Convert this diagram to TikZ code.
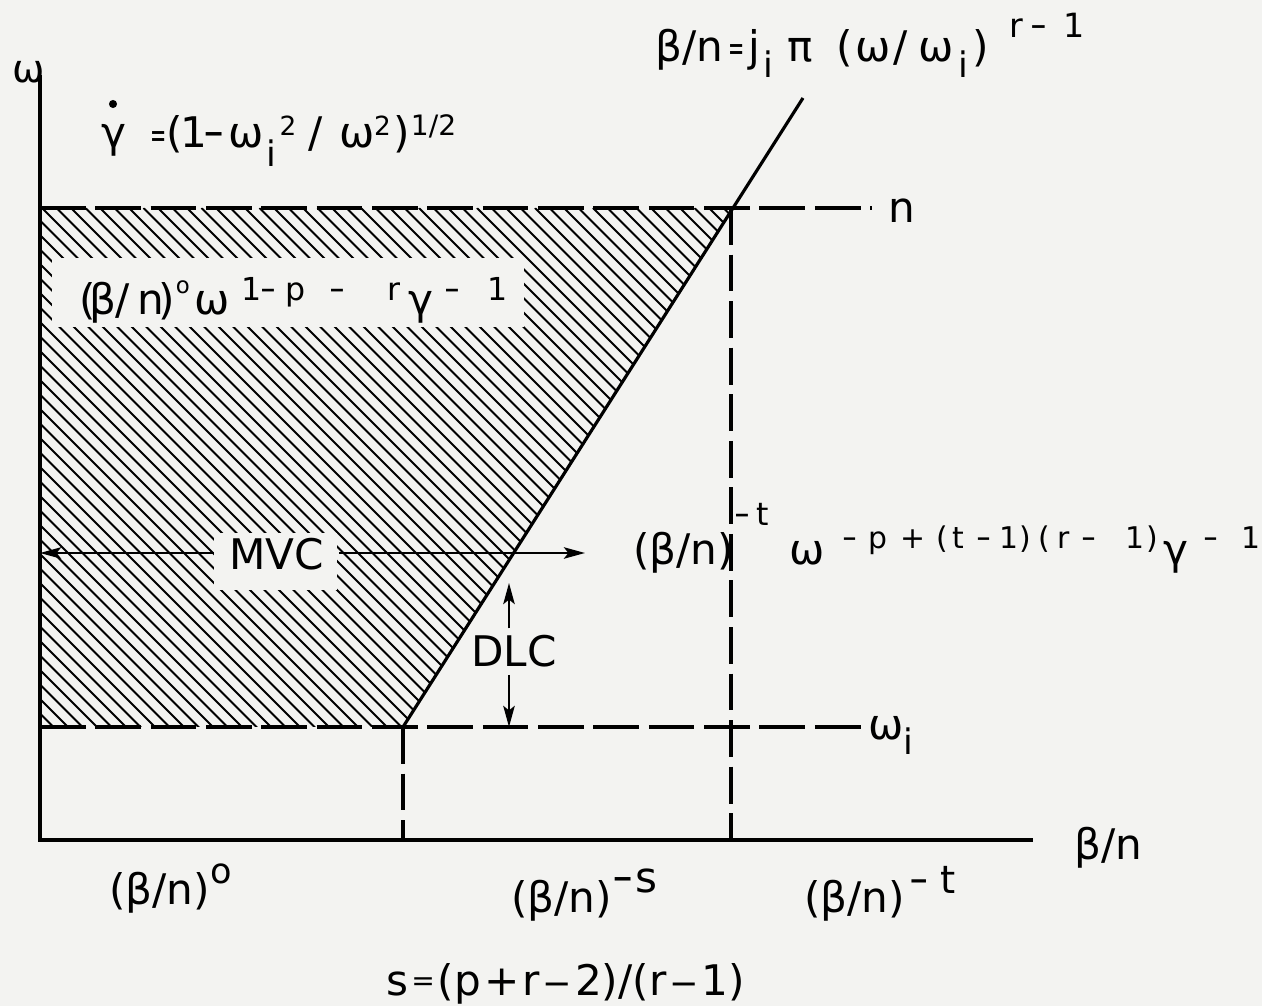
\documentclass[tikz,border=0pt]{standalone}
\usepackage{fontspec}
\setmainfont{DejaVu Sans}
\usetikzlibrary{arrows.meta}
\newlength\pxu \setlength\pxu{0.5669pt}
\newcommand\g[1]{\hspace*{#1\pxu}}
\newcommand\fs[2]{{\fontsize{#1}{#1}\selectfont #2}}
\newcommand\Up[3]{\raisebox{#2\pxu}{\fontsize{#1}{#1}\selectfont #3}}
\newcommand\at[3][0]{\rlap{\hspace*{#2\pxu}\raisebox{#1\pxu}{#3}}}
\newcommand\mn{\scalebox{0.6}[1]{−}}
\newcommand\eqs{\fs{20}{\scalebox{0.55}[1]{=}}}
\definecolor{bg}{RGB}{243,243,241}
\begin{document}
\begin{tikzpicture}[x=0.02cm,y=-0.02cm,
  lbl/.style={inner sep=0pt, font=\fontsize{24}{28}\selectfont},
  axisline/.style={line width=2.6pt, line join=miter},
  guideh/.style={line width=1.9pt, dash pattern=on 26pt off 5.5pt},
  guidev/.style={line width=1.9pt, dash pattern=on 21pt off 5.5pt},
  diag/.style={line width=1.8pt},
  hatchline/.style={line width=1.1pt},
  arr/.style={line width=1.3pt, -{Stealth[length=12pt,width=6.5pt,inset=2.5pt]}}]
\fill[bg] (0,0) rectangle (1262,1006);
\useasboundingbox (0,0) rectangle (1262,1006);
% key points
\coordinate (O) at (40,840);
\coordinate (Ytop) at (40,75);
\coordinate (Xend) at (1033,840);
\coordinate (nL) at (40,208);
\coordinate (nR) at (872,208);
\coordinate (wL) at (40,727);
\coordinate (wR) at (862,727);
\coordinate (D0) at (403,727);
\coordinate (D1) at (733,208);
\coordinate (Dtop) at (803,98);
\coordinate (V1t) at (731,208);
\coordinate (V1b) at (731,840);
% hatching
\begin{scope}
  \clip (nL) -- (D1) -- (D0) -- (wL) -- cycle;
  \foreach \i in {0,...,85} {
    \draw[hatchline] ({-480+\i*14.5},208) -- ++(560,560);
  }
\end{scope}
% blank areas in the hatching
\fill[bg] (52,258) rectangle (524,327);
\fill[bg] (214,533) rectangle (337,590);
% guides
\draw[guideh] (nL) -- (nR);
\draw[guideh] (wL) -- (wR);
\draw[guidev] (D0) -- (D0 |- O);
\draw[guidev] (V1t) -- (V1b);
% boundary line
\draw[diag] (D0) -- (D1) -- (Dtop);
% axes
\draw[axisline] (Ytop) -- (O) -- (Xend);
% labels
\node[lbl, anchor=base west, font=\fontsize{22}{26}\selectfont] (wax) at (12,83) {ω};
\node[lbl, anchor=base west] (xax) at (1074,860) {β/n};
\node[lbl, anchor=base west] (gam) at (100,148) {\at{0}{γ}\at[0]{49}{\eqs}\at{66}{(}\at{80}{1}\at{103}{\mn}\at{128}{ω}\at[-19]{166}{\fs{20}{i}}\at[13]{179}{\fs{15}{2}}\at{208}{/}\at{239}{ω}\at[13]{274}{\fs{15}{2}}\at{293}{)}\at[13]{311}{\fs{16}{1/2}}};
\coordinate (gdotc) at (113,104);
\fill (gdotc) circle (2.3pt);
\node[lbl, anchor=base west] (toplab) at (652,62) {\at{2}{β/n}\at[2]{76}{\eqs}\at{96}{j}\at[-16]{111}{\fs{20}{i}}\at{135}{π}\at{184}{(}\at{203}{ω}\at{241}{/}\at{266}{ω}\at[-16]{306}{\fs{20}{i}}\at{321}{)}\at[25]{358}{\fs{19}{r}}\at[25]{379}{\fs{19}{\mn}}\at[25]{412}{\fs{19}{1}}};
\node[lbl, anchor=base west] (nlab) at (888,223) {n};
\node[lbl, anchor=base west] (wlab) at (868,740) {ω\Up{20}{-15}{i}};
\node[lbl, anchor=base west] (l3) at (80,315) {\at{-2}{(}\at{8}{β}\at{34}{/}\at{57}{n}\at{78}{)}\at[22]{95}{\fs{13}{o}}\at{114}{ω}\at[15]{161}{\fs{18}{1}}\at[15]{180}{\fs{18}{\mn}}\at[15]{205}{\fs{18}{p}}\at[15]{249}{\fs{18}{\mn}}\at[15]{308}{\fs{18}{r}}\at{329}{γ}\at[15]{365}{\fs{18}{\mn}}\at[15]{408}{\fs{18}{1}}};
\node[lbl, anchor=base west] (l4) at (632,565) {\at{0}{(β/n)}\at[40]{102}{\fs{18}{\mn\g{6}t}}\at{157}{ω}\at[17]{210}{\fs{17}{\mn}}\at[17]{236}{\fs{17}{p}}\at[17]{268}{\fs{17}{+}}\at[17]{304}{\fs{17}{(}}\at[17]{321}{\fs{17}{t}}\at[17]{345}{\fs{17}{\mn}}\at[17]{368}{\fs{17}{1}}\at[17]{388}{\fs{17}{)}}\at[17]{407}{\fs{17}{(}}\at[17]{426}{\fs{17}{r}}\at[17]{450}{\fs{17}{\mn}}\at[17]{494}{\fs{17}{1}}\at[17]{515}{\fs{17}{)}}\at{532}{γ}\at[17]{573}{\fs{17}{\mn}}\at[17]{611}{\fs{17}{1}}};
\node[lbl, anchor=base west] (b0) at (109,905) {(β/n)\Up{20}{22}{o}};
\node[lbl, anchor=base west] (bs) at (511,912) {(β/n)\Up{24}{20}{\mn\g{2}s}};
\node[lbl, anchor=base west] (bt) at (804,912) {(β/n)\g{4}\Up{22}{19}{\mn\g{12}t}};
\node[lbl, anchor=base west] (sf) at (386,995) {s\g{3}\Up{16}{5}{=}\g{3}(p\g{3}+\g{3}r\g{3}\fs{20}{−}\g{3}2)/(r\g{3}\fs{20}{−}\g{3}1)};
% MVC arrow
\node[lbl, anchor=base, inner xsep=8.5pt] (mvc) at (276.5,570) {MVC};
\coordinate (mvcL) at (40,553);
\coordinate (mvcR) at (585,553);
\draw[arr] (mvc.west |- mvcL) -- (mvcL);
\draw[arr] (mvc.east |- mvcR) -- (mvcR);
% DLC arrow
\node[lbl, anchor=base, inner ysep=4pt] (dlc) at (514,667) {DLC};
\coordinate (dlcT) at (509,583);
\coordinate (dlcB) at (509,727);
\draw[arr] (dlc.north -| dlcT) -- (dlcT);
\draw[arr] (dlc.south -| dlcB) -- (dlcB);
\end{tikzpicture}
\end{document}
